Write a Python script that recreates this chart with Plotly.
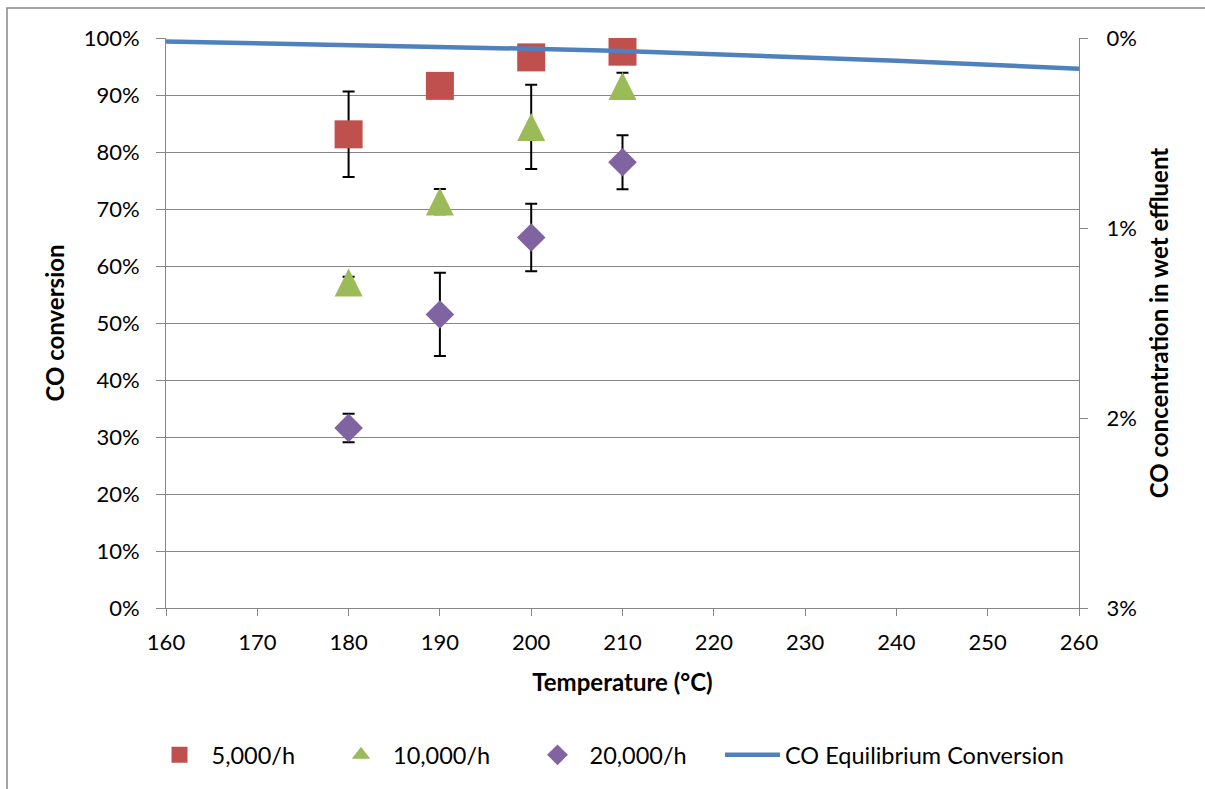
import plotly.graph_objects as go

# Measured CO conversion (fraction) vs. temperature for three space velocities
temps = [180, 190, 200, 210]

conv_5k = [0.831, 0.916, 0.966, 0.976]
err_5k = [0.075, 0.010, 0.010, 0.010]

conv_10k = [0.571, 0.713, 0.844, 0.916]
err_10k = [0.010, 0.022, 0.074, 0.023]

conv_20k = [0.316, 0.515, 0.650, 0.782]
err_20k = [0.025, 0.073, 0.059, 0.0475]

# Equilibrium conversion curve
eq_temps = [160, 170, 180, 190, 200, 210, 220, 230, 240, 250, 260]
eq_conv = [0.994, 0.991, 0.988, 0.985, 0.981, 0.977, 0.972, 0.966, 0.960, 0.953, 0.946]

series_names = ["5,000/h", "10,000/h", "20,000/h", "CO Equilibrium Conversion"]

RED = "#C0504D"
GREEN = "#9BBB59"
PURPLE = "#8064A2"
BLUE = "#4F81BD"
GRID = "#868686"
FONT = "Lato, Open Sans, sans-serif"
FS = 22
FS_TITLE = 24
FS_LEGEND = 23.5

W, H = 1205, 789
ML, MR, MT, MB = 166, 126, 38, 181

TRI_SIZE = 28


def paper_x(px):
    return (px - ML) / (W - ML - MR)


def paper_y(py):
    return (H - MB - py) / (H - MT - MB)


def err(arr):
    return dict(type="data", array=arr, symmetric=True, color="black",
                thickness=2, width=6)


fig = go.Figure()

fig.add_trace(go.Scatter(
    x=temps, y=conv_5k, mode="markers", name=series_names[0],
    marker=dict(symbol="square", size=28, color=RED),
    error_y=err(err_5k), legend="legend"))

# isosceles triangle (as tall as it is wide): a flipped arrow head,
# pushed up by half its height so it is centred on the point
fig.add_trace(go.Scatter(
    x=temps, y=conv_10k, mode="markers", name=series_names[1],
    marker=dict(symbol="arrow-down", angle=180, size=TRI_SIZE, color=GREEN,
                standoff=TRI_SIZE / 2),
    error_y=err(err_10k), showlegend=False, legendgroup="10k"))

# legend key for the 10,000/h series
fig.add_trace(go.Scatter(
    x=[None], y=[None], mode="markers", name=series_names[1],
    marker=dict(symbol="triangle-up", size=16, color=GREEN),
    legend="legend2", legendgroup="10k", hoverinfo="skip"))

fig.add_trace(go.Scatter(
    x=temps, y=conv_20k, mode="markers", name=series_names[2],
    marker=dict(symbol="diamond", size=22, color=PURPLE),
    error_y=err(err_20k), legend="legend3"))

fig.add_trace(go.Scatter(
    x=eq_temps, y=eq_conv, mode="lines", name=series_names[3],
    line=dict(color=BLUE, width=4.5), legend="legend4"))

# empty trace so the secondary (concentration) axis is drawn
fig.add_trace(go.Scatter(x=[], y=[], yaxis="y2", showlegend=False,
                         hoverinfo="skip"))

legend_common = dict(
    orientation="h", xref="container", yref="container",
    xanchor="left", yanchor="middle", y=1 - 755 / H,
    font=dict(family=FONT, size=FS_LEGEND, color="black"),
    bgcolor="rgba(0,0,0,0)", borderwidth=0, visible=True,
)

fig.update_layout(
    width=W, height=H, autosize=False, showlegend=True,
    margin=dict(l=ML, r=MR, t=MT, b=MB, pad=0),
    paper_bgcolor="white", plot_bgcolor="white",
    font=dict(family=FONT, size=FS, color="black"),
    legend=dict(legend_common, x=147.5 / W, itemwidth=54),
    legend2=dict(legend_common, x=329 / W, itemwidth=54),
    legend3=dict(legend_common, x=525.5 / W, itemwidth=54),
    legend4=dict(legend_common, x=720 / W, itemwidth=55),
    xaxis=dict(
        range=[160, 260], dtick=10, tick0=160,
        showline=True, linecolor=GRID, linewidth=1,
        ticks="outside", ticklen=7, tickcolor=GRID, ticklabelstandoff=8,
        showgrid=False, zeroline=False,
        title=dict(text="<b>Temperature (°C)</b>", standoff=19,
                   font=dict(family=FONT, size=FS_TITLE)),
    ),
    yaxis=dict(
        range=[0, 1], dtick=0.1, tickformat=".0%",
        showline=True, linecolor=GRID, linewidth=1,
        ticks="outside", ticklen=9, tickcolor=GRID, ticklabelstandoff=12,
        showgrid=True, gridcolor=GRID, gridwidth=1, zeroline=False,
        title=dict(text="<b>CO conversion</b>", standoff=12,
                   font=dict(family=FONT, size=FS_TITLE)),
    ),
    yaxis2=dict(
        overlaying="y", side="right", anchor="x",
        range=[0.03, 0], dtick=0.01, tickformat=".0%",
        showline=True, linecolor=GRID, linewidth=1,
        ticks="outside", ticklen=8, tickcolor=GRID, ticklabelstandoff=14,
        showgrid=False, zeroline=False,
        title=dict(text="<b>CO concentration in wet effluent</b>",
                   standoff=15, font=dict(family=FONT, size=FS_TITLE)),
    ),
    shapes=[dict(
        type="rect", xref="paper", yref="paper",
        x0=paper_x(7), x1=paper_x(W + 20), y0=paper_y(H + 20), y1=paper_y(8),
        line=dict(color=GRID, width=1.5), fillcolor="rgba(0,0,0,0)",
        layer="below")],
)

fig.write_html("out.html")
